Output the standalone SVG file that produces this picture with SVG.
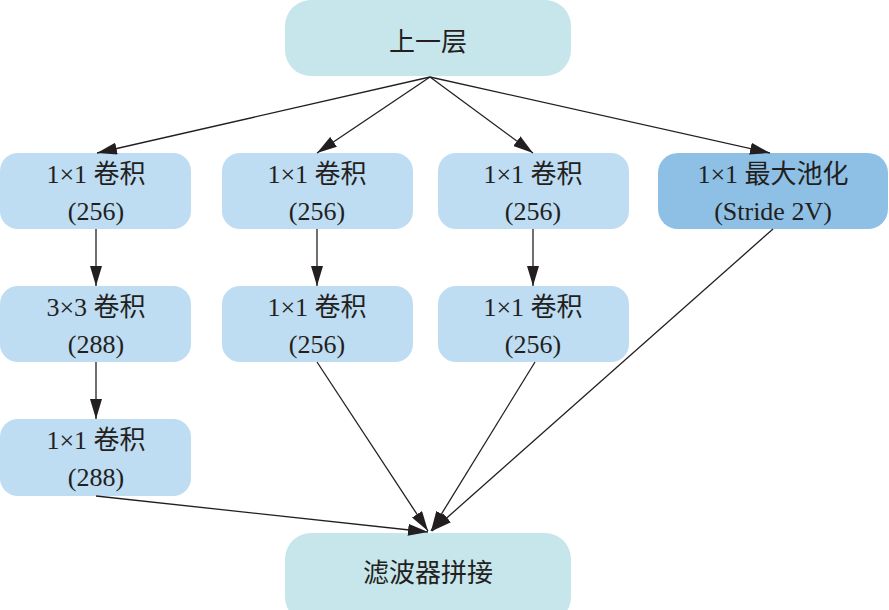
<svg xmlns="http://www.w3.org/2000/svg" width="889" height="610" viewBox="0 0 889 610">
<style>
.t{font-family:"Liberation Serif","Noto Sans CJK SC",serif;font-size:26px;fill:#231f20;text-anchor:middle}
.c{fill:#c6e6ec}
.b{fill:#bedcf2}
.p{fill:#8ec0e6}
.e{stroke:#231f20;stroke-width:1.3;fill:none;marker-end:url(#ah)}
</style>
<defs>
<marker id="ah" viewBox="0 0 20 12" refX="20" refY="6" markerWidth="20" markerHeight="12" markerUnits="userSpaceOnUse" orient="auto">
<path d="M0,0 L20,6 L0,12 Z" fill="#231f20"/>
</marker>
</defs>
<rect width="889" height="610" fill="#fff"/>
<g id="top"><rect class="c" x="285" y="0" width="286" height="76" rx="26"/><text class="t" x="428" y="51">上一层</text></g>
<g id="n11"><rect class="b" x="0" y="153" width="191" height="76" rx="18"/><text class="t" x="96" y="183">1×1 卷积</text><text class="t" x="96" y="220">(256)</text></g>
<g id="n21"><rect class="b" x="222" y="153" width="191" height="76" rx="18"/><text class="t" x="317" y="183">1×1 卷积</text><text class="t" x="317" y="220">(256)</text></g>
<g id="n31"><rect class="b" x="438" y="153" width="191" height="76" rx="18"/><text class="t" x="533" y="183">1×1 卷积</text><text class="t" x="533" y="220">(256)</text></g>
<g id="n41"><rect class="p" x="658" y="153" width="230" height="76" rx="20"/><text class="t" x="773" y="183">1×1 最大池化</text><text class="t" x="773" y="220">(Stride 2V)</text></g>
<g id="n12"><rect class="b" x="0" y="286" width="191" height="76" rx="18"/><text class="t" x="96" y="316">3×3 卷积</text><text class="t" x="96" y="353">(288)</text></g>
<g id="n22"><rect class="b" x="222" y="286" width="191" height="76" rx="18"/><text class="t" x="317" y="316">1×1 卷积</text><text class="t" x="317" y="353">(256)</text></g>
<g id="n32"><rect class="b" x="438" y="286" width="191" height="76" rx="18"/><text class="t" x="533" y="316">1×1 卷积</text><text class="t" x="533" y="353">(256)</text></g>
<g id="n13"><rect class="b" x="0" y="419" width="191" height="77" rx="18"/><text class="t" x="96" y="449">1×1 卷积</text><text class="t" x="96" y="486">(288)</text></g>
<g id="bottom"><rect class="c" x="285" y="533" width="286" height="90" rx="26"/><text class="t" x="428" y="582">滤波器拼接</text></g>
<g id="edges">
<path class="e" d="M430,77 L97,153"/>
<path class="e" d="M430,77 L317,153"/>
<path class="e" d="M430,77 L533,153"/>
<path class="e" d="M430,77 L770,153"/>
<path class="e" d="M96,229 L96,286"/>
<path class="e" d="M96,362 L96,419"/>
<path class="e" d="M317,229 L317,286"/>
<path class="e" d="M533,229 L533,286"/>
<path class="e" d="M96,496 L428,532"/>
<path class="e" d="M317,362 L428,531"/>
<path class="e" d="M535,362 L431,531"/>
<path class="e" d="M773,229 L432,531"/>
</g>
</svg>
